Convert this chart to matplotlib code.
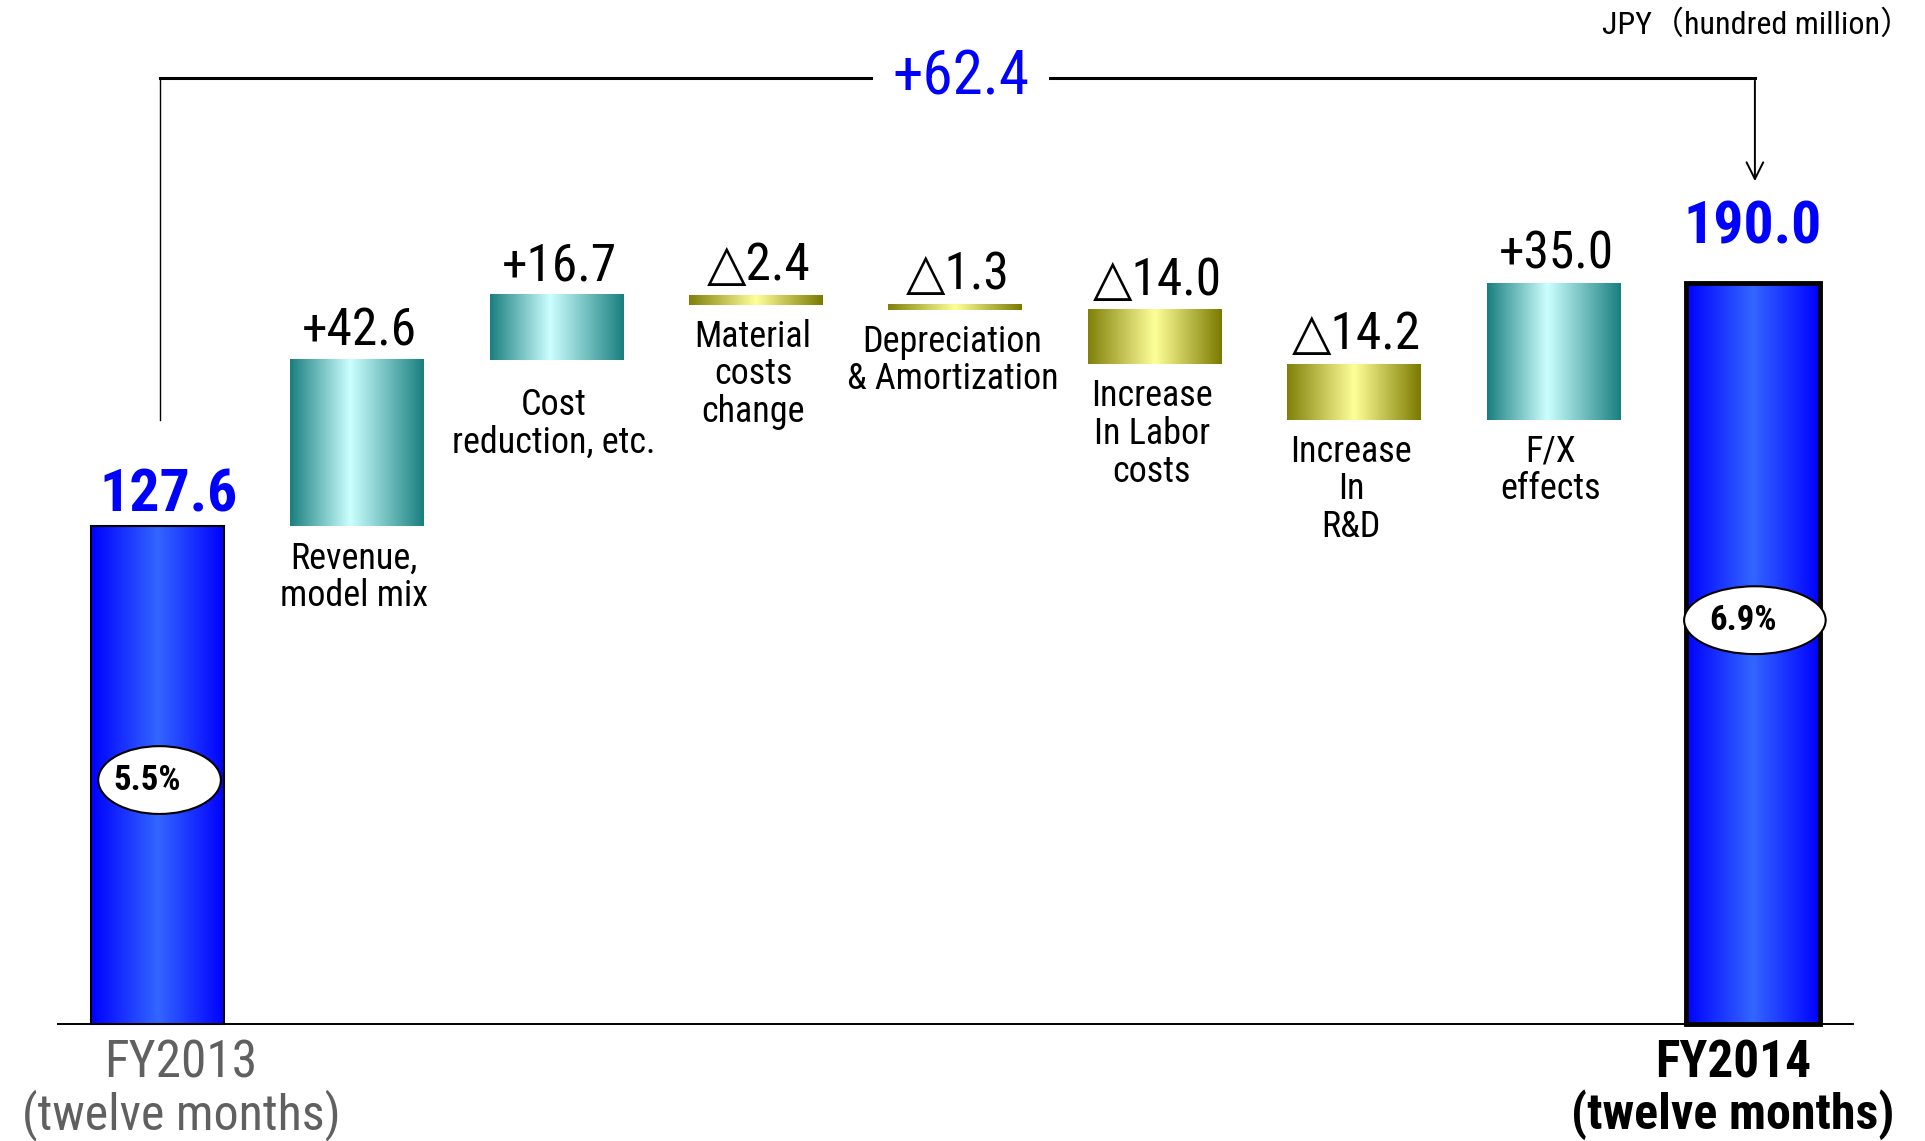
import numpy as np
import matplotlib
matplotlib.use('agg')
import matplotlib.pyplot as plt
from matplotlib.colors import LinearSegmentedColormap
from matplotlib.patches import Rectangle, Ellipse

plt.rcParams['font.family'] = ['Roboto Condensed', 'DejaVu Sans', 'Noto Sans CJK JP']

# data (JPY hundred million)
start_value = 127.6
end_value = 190.0
total_labels = ['FY2013\n(twelve months)', 'FY2014\n(twelve months)']
margins = ['5.5%', '6.9%']
step_names = ['Revenue,\nmodel mix', 'Cost\nreduction, etc.', 'Material\ncosts\nchange',
              'Depreciation\n& Amortization', 'Increase\nIn Labor\ncosts', 'Increase\nIn\nR&D',
              'F/X\neffects']
step_values = [42.6, 16.7, -2.4, -1.3, -14.0, -14.2, 35.0]
total_change = 62.4
unit_label = 'JPY（hundred million）'

teal = LinearSegmentedColormap.from_list('teal', [(0, '#1a7f7f'), (0.45, '#ccffff'), (1, '#1a7f7f')])
olive = LinearSegmentedColormap.from_list('olive', [(0, '#80800a'), (0.5, '#ffff99'), (1, '#7a7a00')])
blue = LinearSegmentedColormap.from_list('blue', [(0, '#0000ff'), (0.5, '#3366ff'), (1, '#0000ff')])
grad = np.linspace(0, 1, 256).reshape(1, -1)

W = 0.67
extra_drop = {1: 9}  # the "Cost reduction" label sits a bit lower


def gradient_bar(ax, xc, y0, y1, cmap):
    ax.imshow(grad, extent=[xc - W / 2, xc + W / 2, min(y0, y1), max(y0, y1)],
              aspect='auto', cmap=cmap, interpolation='bicubic', zorder=2)


fig = plt.figure(figsize=(19.25, 11.41), dpi=100)
ax = fig.add_axes([0, 0, 1, 1])
ax.axis('off')

n = len(step_values)
end_x = n + 1

# totals
for xc, val, lw, m, mfrac, mw in [(0, start_value, 1.5, margins[0], 0.49, 0.615),
                                  (end_x, end_value, 3.5, margins[1], 0.545, 0.71)]:
    gradient_bar(ax, xc, 0, val, blue)
    ax.add_patch(Rectangle((xc - W / 2, 0), W, val, fill=False, edgecolor='black', lw=lw, zorder=3))
    ax.add_patch(Ellipse((xc + 0.01, val * mfrac), mw, 17.4, facecolor='white',
                         edgecolor='black', lw=1.5, zorder=4))
    ax.text(xc - 0.05, val * mfrac, m, ha='center', va='center', fontsize=25,
            fontweight='bold', zorder=5)

ax.annotate(f'{start_value:.1f}', (0, start_value), xytext=(8, 11), textcoords='offset points',
            ha='center', va='baseline', fontsize=43, fontweight='bold', color='#0000ff')
ax.annotate(f'{end_value:.1f}', (end_x, end_value), xytext=(0, 29), textcoords='offset points',
            ha='center', va='baseline', fontsize=43, fontweight='bold', color='#0000ff')

# steps
level = start_value
for i, (name, v) in enumerate(zip(step_names, step_values)):
    xc = i + 1
    new = level + v
    gradient_bar(ax, xc, level, new, teal if v > 0 else olive)
    top, bot = max(level, new), min(level, new)
    txt = ('+' if v > 0 else '△') + f'{abs(v):.1f}'
    ax.annotate(txt, (xc, top), xytext=(2, 11), textcoords='offset points',
                ha='center', va='baseline', fontsize=37)
    ax.annotate(name, (xc, bot), xytext=(-2, -10 - extra_drop.get(i, 0)), textcoords='offset points',
                ha='center', va='top', fontsize=26, linespacing=1.06)
    level = new

# baseline
ax.plot([-0.5, end_x + 0.5], [0, 0], color='black', lw=1.4, zorder=4)

# bracket with total change
top_y = 242.7
ax.plot([0.012, 0.012], [155, top_y], color='black', lw=1.0)
ax.plot([0.012, end_x + 0.01], [top_y, top_y], color='black', lw=2.2)
ax.annotate('', xy=(end_x + 0.01, 215.5), xytext=(end_x + 0.01, top_y),
            arrowprops=dict(arrowstyle='->', color='black', lw=1.4, mutation_scale=30))
ax.text(4.03, top_y, f'+{total_change:.1f}', ha='center', va='center', fontsize=44,
        color='#0000ff', bbox=dict(facecolor='white', edgecolor='none', pad=14))

ax.text(8.80, 256.3, unit_label, ha='right', va='center', fontsize=23)

# period labels
for xc, lab, col, wt in [(0.117, total_labels[0], '#606060', 'normal'),
                         (7.9, total_labels[1], 'black', 'bold')]:
    first, second = lab.split('\n')
    ax.text(xc, -10.1, first, ha='center', va='center', fontsize=37, color=col, fontweight=wt)
    ax.text(xc, -23.4, second, ha='center', va='center', fontsize=36, color=col, fontweight=wt)

ax.set_xlim(-0.79, 8.863)
ax.set_ylim(-30.1, 262.7)

fig.savefig('out.png', dpi=100)
